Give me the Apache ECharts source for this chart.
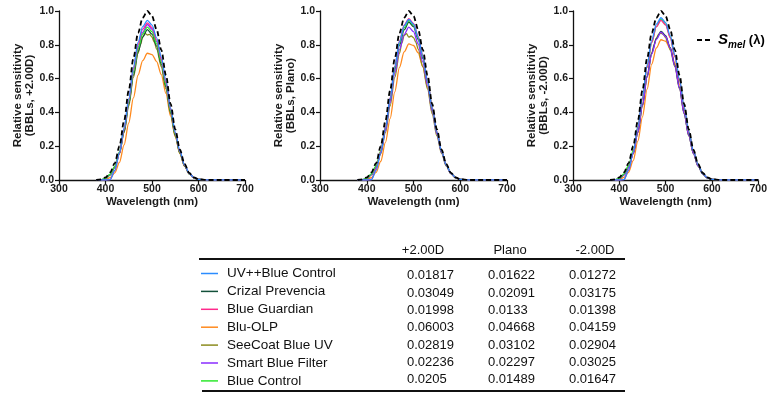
<!DOCTYPE html>
<html>
<head>
<meta charset="utf-8">
<script src="https://cdn.jsdelivr.net/npm/echarts@6/dist/echarts.min.js"></script>
<style>
html,body{margin:0;padding:0;background:#fff;}
#chart{width:770px;height:394px;}
</style>
</head>
<body>
<div id="chart"></div>
<script>
// ---------- data ----------
const wl = [380,390,400,410,420,430,440,450,460,470,480,490,500,510,520,530,540,550,560,570,580,590,600,620,650,700];
const wlSee = [380,390,400,410,420,430,440,450,460,470,475,480,485,490,495,500,505,510,520,530,540,550,560,570,580,590,600,620,650,700];

const smel = [0,.003,.015,.045,.10,.20,.35,.53,.72,.87,.96,1.0,.97,.89,.77,.62,.45,.30,.18,.095,.042,.015,.004,0,0,0];

// +2.00D
const uvBluePlus2   = [0,0,0,.002,.057,.161,.308,.481,.667,.814,.907,.945,.917,.841,.728,.586,.425,.284,.170,.090,.040,.014,.004,0,0,0];
const crizalPlus2   = [0,.0008,.008,.031,.076,.158,.287,.449,.621,.759,.846,.89,.863,.792,.685,.552,.401,.267,.160,.085,.037,.013,.004,0,0,0];
const guardianPlus2 = [0,0,0,.002,.056,.158,.303,.473,.657,.801,.893,.93,.902,.828,.716,.577,.419,.279,.167,.088,.039,.014,.004,0,0,0];
const bluOlpPlus2   = [0,.0002,.002,.014,.042,.104,.208,.338,.486,.620,.706,.75,.742,.701,.624,.512,.378,.257,.155,.082,.036,.013,.004,0,0,0];
const seeCoatPlus2  = [0,.0008,.008,.030,.074,.155,.280,.438,.607,.75,.80,.845,.868,.858,.862,.845,.815,.775,.670,.539,.392,.261,.157,.083,.037,.013,.004,0,0,0];
const smartPlus2    = [0,.0008,.008,.032,.078,.164,.296,.464,.642,.785,.874,.92,.892,.819,.708,.570,.414,.276,.166,.087,.039,.014,.004,0,0,0];
const ctrlPlus2     = [0,.0011,.0095,.034,.081,.167,.298,.461,.635,.776,.864,.905,.878,.805,.697,.561,.407,.272,.163,.086,.038,.014,.004,0,0,0];

// Plano
const uvBluePlano   = [0,0,0,.002,.057,.162,.310,.484,.671,.818,.912,.95,.922,.846,.732,.589,.428,.285,.171,.090,.040,.014,.004,0,0,0];
const crizalPlano   = [0,.0008,.0084,.033,.079,.166,.301,.471,.653,.798,.888,.935,.907,.832,.720,.580,.421,.281,.168,.089,.039,.014,.004,0,0,0];
const guardianPlano = [0,0,0,.003,.062,.168,.315,.488,.674,.822,.917,.955,.926,.850,.735,.592,.430,.287,.172,.091,.040,.014,.004,0,0,0];
const bluOlpPlano   = [0,.0002,.002,.014,.045,.111,.223,.363,.522,.666,.758,.805,.796,.753,.670,.549,.406,.275,.167,.088,.039,.014,.004,0,0,0];
const seeCoatPlano  = [0,.0008,.008,.030,.074,.155,.280,.438,.607,.75,.81,.855,.866,.845,.852,.843,.815,.775,.670,.539,.392,.261,.157,.083,.037,.013,.004,0,0,0];
const smartPlano    = [0,.0008,.008,.032,.077,.161,.291,.456,.632,.772,.860,.905,.878,.805,.697,.561,.407,.272,.163,.086,.038,.014,.004,0,0,0];
const ctrlPlano     = [0,.0011,.0099,.036,.085,.174,.311,.481,.663,.810,.902,.945,.917,.841,.728,.586,.425,.284,.170,.090,.040,.014,.004,0,0,0];

// -2.00D
const uvBlueMinus2   = [0,0,0,.002,.058,.163,.313,.489,.678,.827,.922,.96,.931,.854,.739,.595,.432,.288,.173,.091,.040,.014,.004,0,0,0];
const crizalMinus2   = [0,.0008,.008,.031,.075,.157,.283,.444,.614,.751,.836,.88,.854,.783,.678,.546,.396,.264,.158,.084,.037,.013,.004,0,0,0];
const guardianMinus2 = [0,0,0,.002,.057,.161,.308,.481,.667,.814,.907,.945,.917,.841,.728,.586,.425,.284,.170,.090,.040,.014,.004,0,0,0];
const bluOlpMinus2   = [0,.0002,.002,.015,.046,.115,.230,.374,.538,.686,.781,.83,.821,.776,.691,.566,.418,.284,.172,.090,.040,.014,.004,0,0,0];
const seeCoatMinus2  = [0,.0008,.008,.030,.074,.155,.280,.438,.607,.75,.80,.84,.862,.868,.862,.843,.81,.77,.670,.539,.392,.261,.157,.083,.037,.013,.004,0,0,0];
const smartMinus2    = [0,.0008,.008,.031,.074,.156,.282,.441,.611,.746,.831,.875,.849,.779,.674,.543,.394,.263,.158,.083,.037,.013,.004,0,0,0];
const ctrlMinus2     = [0,.0011,.010,.036,.086,.175,.313,.484,.667,.814,.907,.95,.922,.846,.732,.589,.428,.285,.171,.090,.040,.014,.004,0,0,0];

const lensNames = ['UV++Blue Control','Crizal Prevencia','Blue Guardian','Blu-OLP','SeeCoat Blue UV','Smart Blue Filter','Blue Control'];
const lensColors = ['#2b8cff','#12503a','#ff2a8c','#ff8a1e','#8c8c1e','#8a2cff','#2ee82e'];
const panelNames = ['(BBLs, +2.00D)','(BBLs, Plano)','(BBLs, -2.00D)'];
const tableCols = ['+2.00D','Plano','-2.00D'];
const valsPlus2  = ['0.01817','0.03049','0.01998','0.06003','0.02819','0.02236','0.0205'];
const valsPlano  = ['0.01622','0.02091','0.0133','0.04668','0.03102','0.02297','0.01489'];
const valsMinus2 = ['0.01272','0.03175','0.01398','0.04159','0.02904','0.03025','0.01647'];
const xTicks = {min:300, max:700, interval:100};
const yTicks = {min:0, max:1, interval:0.2};

// ---------- build ----------
const panelLenses = [
  [uvBluePlus2, crizalPlus2, guardianPlus2, bluOlpPlus2, seeCoatPlus2, smartPlus2, ctrlPlus2],
  [uvBluePlano, crizalPlano, guardianPlano, bluOlpPlano, seeCoatPlano, smartPlano, ctrlPlano],
  [uvBlueMinus2, crizalMinus2, guardianMinus2, bluOlpMinus2, seeCoatMinus2, smartMinus2, ctrlMinus2]
];
const FONT = 'Liberation Sans, Arial, sans-serif';
const TXT = '#1a1a1a';
const gridPos = [
  {left:59, top:11, width:186, height:169},
  {left:320, top:11, width:187, height:169},
  {left:573, top:11, width:187, height:169}
];
const yNameGap = [23, 23, 21];
const pairs = (xs, ys) => xs.map((x, i) => [x, ys[i]]);
const drawOrder = [3, 4, 1, 5, 6, 2, 0];

const grids = [], xAxes = [], yAxes = [], series = [];
gridPos.forEach((g, p) => {
  grids.push(Object.assign({containLabel:false}, g));
  xAxes.push({
    type:'value', gridIndex:p, min:xTicks.min, max:xTicks.max, interval:xTicks.interval,
    name:'Wavelength (nm)', nameLocation:'middle', nameGap:16,
    nameTextStyle:{fontFamily:FONT, fontWeight:'bold', fontSize:11.5, color:TXT},
    axisLine:{lineStyle:{color:'#111', width:1.3}},
    axisTick:{show:true, inside:false, length:4, lineStyle:{color:'#111', width:1.2}},
    axisLabel:{fontFamily:FONT, fontWeight:'bold', fontSize:10.5, color:TXT, margin:4},
    splitLine:{show:false}
  });
  yAxes.push({
    type:'value', gridIndex:p, min:yTicks.min, max:yTicks.max, interval:yTicks.interval,
    name:'Relative sensitivity\n' + panelNames[p], nameLocation:'middle', nameGap:yNameGap[p], nameRotate:90,
    nameTextStyle:{fontFamily:FONT, fontWeight:'bold', fontSize:11.5, color:TXT, lineHeight:12},
    axisLine:{show:true, lineStyle:{color:'#111', width:1.3}},
    axisTick:{show:true, inside:false, length:4, lineStyle:{color:'#111', width:1.2}},
    axisLabel:{fontFamily:FONT, fontWeight:'bold', fontSize:10.5, color:TXT, margin:5,
      formatter: v => v.toFixed(1)},
    splitLine:{show:false}
  });
  drawOrder.forEach((i, k) => {
    series.push({
      type:'line', name:lensNames[i], xAxisIndex:p, yAxisIndex:p,
      data: pairs(i === 4 ? wlSee : wl, panelLenses[p][i]),
      showSymbol:false, smooth:0.3, smoothMonotone:'x', silent:true,
      lineStyle:{color:lensColors[i], width:1.3}, z:2 + k
    });
  });
  series.push({
    type:'line', name:'Smel', xAxisIndex:p, yAxisIndex:p,
    data: pairs(wl, smel), showSymbol:false, smooth:0.3, smoothMonotone:'x', silent:true,
    lineStyle:{color:'#000', width:1.8, type:[5,3]}, z:20
  });
});

// table + legend graphics
const graphic = [];
graphic.push({type:'line', shape:{x1:697, y1:40, x2:711, y2:40}, style:{stroke:'#000', lineWidth:2, lineDash:[5,3]}});
graphic.push({type:'text', x:718, y:40, style:{
  text:'{s|S}{sub|mel}{p| (λ)}', textVerticalAlign:'middle', fontFamily:FONT,
  rich:{
    s:{fontSize:15, fontWeight:'bold', fontStyle:'italic', fill:'#000', fontFamily:FONT, lineHeight:20},
    sub:{fontSize:10, fontWeight:'bold', fontStyle:'italic', fill:'#000', fontFamily:FONT, verticalAlign:'bottom', lineHeight:20},
    p:{fontSize:13, fontWeight:'bold', fill:'#000', fontFamily:FONT, lineHeight:20}
  }}});

const colX = [407, 488, 569];
const headCX = [423, 510, 595];
tableCols.forEach((c, j) => {
  graphic.push({type:'text', x:headCX[j], y:250, style:{text:c, textAlign:'center', textVerticalAlign:'middle', fontFamily:FONT, fontSize:13, fill:'#111'}});
});
graphic.push({type:'line', shape:{x1:199, y1:259, x2:625, y2:259}, style:{stroke:'#111', lineWidth:2}});
graphic.push({type:'line', shape:{x1:202, y1:391, x2:625, y2:391}, style:{stroke:'#111', lineWidth:2}});
const colVals = [valsPlus2, valsPlano, valsMinus2];
lensNames.forEach((n, i) => {
  const ly = 273.5 + i * 17.9;
  const vy = 275.8 + i * 17.3;
  graphic.push({type:'line', shape:{x1:201, y1:ly, x2:218, y2:ly}, style:{stroke:lensColors[i], lineWidth:1.5}});
  graphic.push({type:'text', x:227, y:ly, style:{text:n, textVerticalAlign:'middle', fontFamily:FONT, fontSize:13.5, fill:'#111'}});
  colVals.forEach((vals, j) => {
    graphic.push({type:'text', x:colX[j], y:vy, style:{text:String(vals[i]), textVerticalAlign:'middle', fontFamily:FONT, fontSize:13, fill:'#111'}});
  });
});

const chart = echarts.init(document.getElementById('chart'), null, {renderer:'canvas'});
chart.setOption({
  backgroundColor:'#fff',
  animation:false,
  grid:grids, xAxis:xAxes, yAxis:yAxes, series:series, graphic:graphic
});
</script>
</body>
</html>
